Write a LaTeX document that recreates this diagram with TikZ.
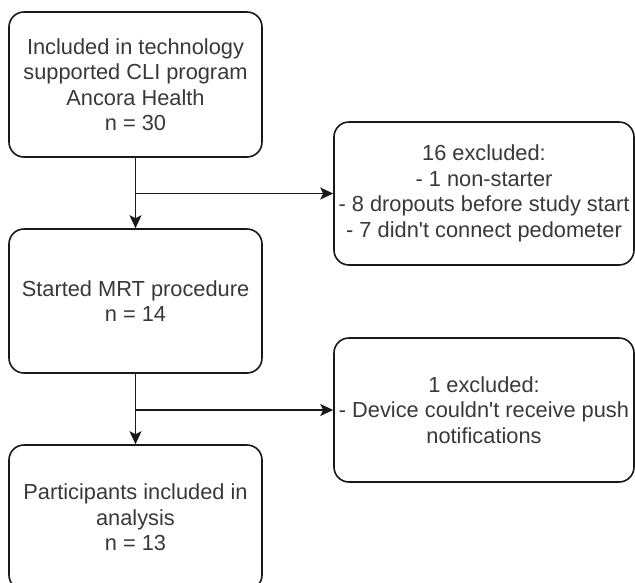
\documentclass[tikz,border=0pt]{standalone}
\usepackage{fontspec}
\setmainfont{Liberation Sans}[Ligatures=TeXOff]
\usetikzlibrary{arrows.meta}
\begin{document}
\begin{tikzpicture}[x=1pt,y=-1pt,
  box/.style={draw=black!90, line width=1.6pt, rounded corners=15pt, align=center,
    text=black!78, inner sep=0pt, font=\fontsize{21.8}{25.5}\selectfont},
  conn/.style={draw=black!90, line width=1.6pt, -{Stealth[length=13pt,width=12pt,inset=3pt]}}]
\useasboundingbox (0,0) rectangle (635,582);
\node[box, minimum width=253pt, minimum height=145pt] (a) at (135.5,84.5)
  {Included in technology\\supported CLI program\\Ancora Health\\n = 30};
\node[box, minimum width=253pt, minimum height=144pt] (b) at (135.5,301)
  {Started MRT procedure\\n = 14};
\node[box, minimum width=253pt, minimum height=145pt] (c) at (135.5,517.5)
  {Participants included in\\analysis\\n = 13};
\node[box, minimum width=300pt, minimum height=143pt] (x1) at (484,193.5)
  {16 excluded:\\- 1 non-starter\\- 8 dropouts before study start\\- 7 didn't connect pedometer};
\node[box, minimum width=300pt, minimum height=144pt] (x2) at (484,410)
  {1 excluded:\\- Device couldn't receive push\\notifications};
\coordinate (j1) at (a.south |- x1.west);
\coordinate (j2) at (b.south |- x2.west);
\draw[conn] (a.south) -- (b.north);
\draw[conn] (j1) -- (x1.west);
\draw[conn] (b.south) -- (c.north);
\draw[conn] (j2) -- (x2.west);
\end{tikzpicture}
\end{document}
